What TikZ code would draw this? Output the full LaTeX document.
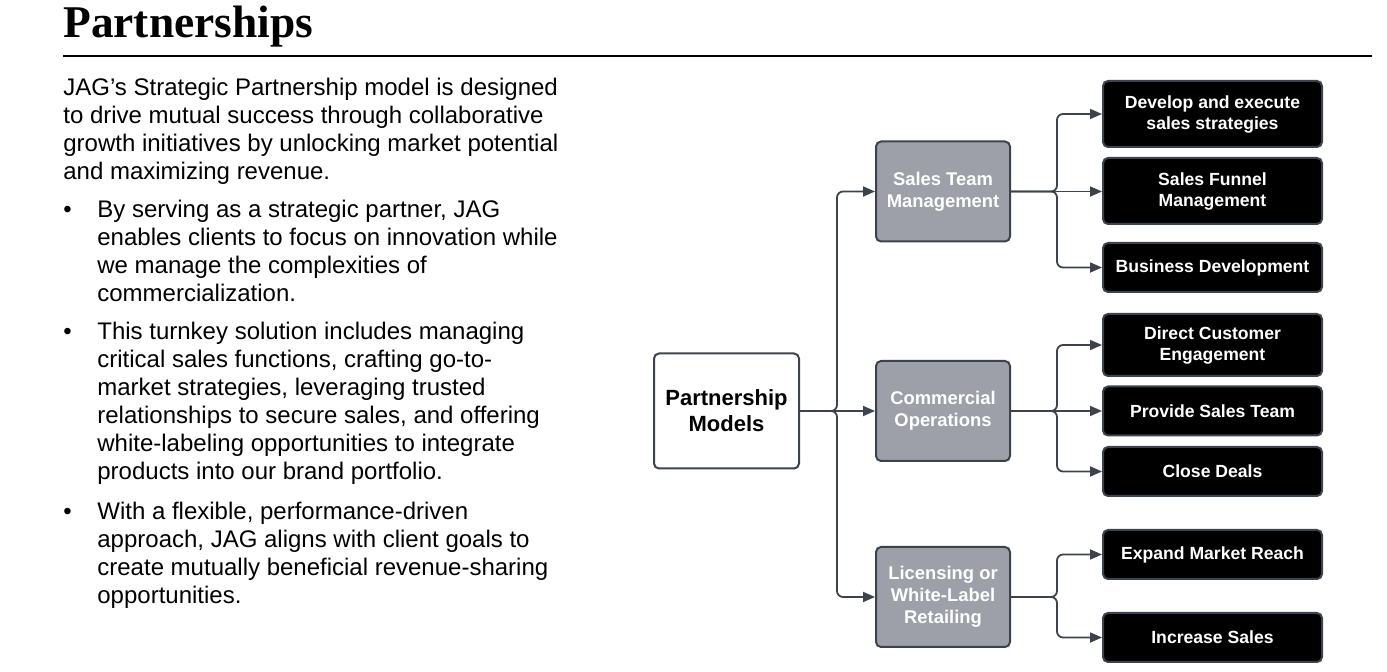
\documentclass[tikz,border=0pt]{standalone}
\usepackage{fontspec}
\setmainfont{Liberation Sans}
\newfontfamily\titlefont{Liberation Serif}
\usetikzlibrary{arrows.meta, positioning}
\definecolor{edgegray}{HTML}{3D434C}
\definecolor{midgray}{HTML}{9DA0A9}

\begin{document}
\begin{tikzpicture}[x=0.5pt, y=-0.5pt,
  heading/.style={anchor=base west, inner sep=0pt, font=\titlefont\bfseries\fontsize{22.7pt}{26pt}\selectfont},
  body/.style={anchor=base west, inner sep=0pt, align=left, font=\fontsize{12pt}{14pt}\selectfont},
  bul/.style={anchor=base west, inner sep=0pt, font=\fontsize{12pt}{14pt}\selectfont},
  root/.style={rectangle, rounded corners=2.5pt, draw=edgegray, line width=1pt, fill=white,
               minimum width=72.5pt, minimum height=57.5pt, align=center,
               font=\bfseries\fontsize{11pt}{13pt}\selectfont},
  model/.style={rectangle, rounded corners=2.5pt, draw=edgegray, line width=1pt, fill=midgray,
               text=white, minimum width=67pt, minimum height=50pt, align=center,
               font=\bfseries\fontsize{9.2pt}{11pt}\selectfont},
  task/.style={rectangle, rounded corners=2.5pt, draw=edgegray, line width=1pt, fill=black,
               text=white, minimum width=109.5pt, minimum height=24.5pt, align=center,
               font=\bfseries\fontsize{8.8pt}{10.5pt}\selectfont},
  arr/.style={-{Triangle[length=6pt, width=5pt]}, line width=0.9pt, draw=edgegray, rounded corners=3pt}
]
  \useasboundingbox (0,0) rectangle (1387,672);

  % heading and text column (multi-line nodes sit on their last baseline)
  \node[heading] (title) at (63,38) {Partnerships};
  \coordinate (ruleL) at (63,56);
  \coordinate (ruleR) at (1372,56);
  \draw[line width=0.7pt] (ruleL) -- (ruleR);

  \node[body] (intro) at (63,180) {JAG’s Strategic Partnership model is designed\\
    to drive mutual success through collaborative\\
    growth initiatives by unlocking market potential\\
    and maximizing revenue.};
  \node[bul] (b1) at (63,218) {•};
  \node[body] (p1) at (97,302) {By serving as a strategic partner, JAG\\
    enables clients to focus on innovation while\\
    we manage the complexities of\\
    commercialization.};
  \node[bul] (b2) at (63,340) {•};
  \node[body] (p2) at (97,480) {This turnkey solution includes managing\\
    critical sales functions, crafting go-to-\\
    market strategies, leveraging trusted\\
    relationships to secure sales, and offering\\
    white-labeling opportunities to integrate\\
    products into our brand portfolio.};
  \node[bul] (b3) at (63,520) {•};
  \node[body] (p3) at (97,604) {With a flexible, performance-driven\\
    approach, JAG aligns with client goals to\\
    create mutually beneficial revenue-sharing\\
    opportunities.};

  % diagram
  \node[root]  (pm)  at (726.5,411) {Partnership\\Models};
  \node[model] (stm) at (943,191.5) {Sales Team\\Management};
  \node[model] (com) at (943,411)   {Commercial\\Operations};
  \node[model] (lic) at (943,597)   {Licensing or\\White-Label\\Retailing};

  \node[task, minimum height=33pt] (dev) at (1212.5,114)   {Develop and execute\\sales strategies};
  \node[task, minimum height=33pt] (sfm) at (1212.5,191)   {Sales Funnel\\Management};
  \node[task]                      (bd)  at (1212.5,267.5) {Business Development};
  \node[task, minimum height=31pt] (dce) at (1212.5,345)   {Direct Customer\\Engagement};
  \node[task]                      (pst) at (1212.5,411)   {Provide Sales Team};
  \node[task]                      (cd)  at (1212.5,471.5) {Close Deals};
  \node[task]                      (emr) at (1212.5,554.5) {Expand Market Reach};
  \node[task]                      (inc) at (1212.5,637.5) {Increase Sales};

  \coordinate (j0) at (837,411);
  \coordinate (j1) at (1057,191.5);
  \coordinate (j2) at (1057,411);
  \coordinate (j3) at (1057,597);

  \draw[arr] (pm.east) -- (j0) |- (stm.west);
  \draw[arr] (pm.east) -- (com.west);
  \draw[arr] (pm.east) -- (j0) |- (lic.west);

  \draw[arr] (stm.east) -- (j1) |- (dev.west);
  \draw[arr] (stm.east) -- (sfm.west |- j1);
  \draw[arr] (stm.east) -- (j1) |- (bd.west);

  \draw[arr] (com.east) -- (j2) |- (dce.west);
  \draw[arr] (com.east) -- (pst.west);
  \draw[arr] (com.east) -- (j2) |- (cd.west);

  \draw[arr] (lic.east) -- (j3) |- (emr.west);
  \draw[arr] (lic.east) -- (j3) |- (inc.west);
\end{tikzpicture}
\end{document}
